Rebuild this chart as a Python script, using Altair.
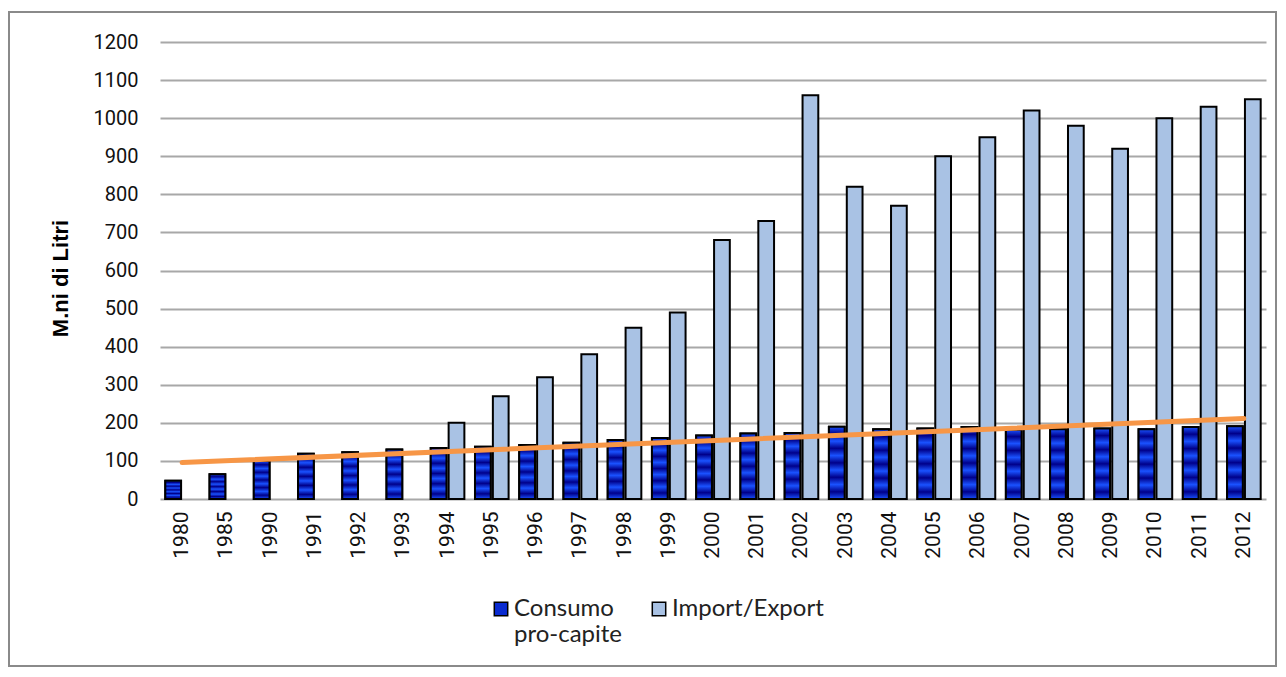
import altair as alt
import pandas as pd

years = ["1980", "1985", "1990", "1991", "1992", "1993", "1994", "1995", "1996",
         "1997", "1998", "1999", "2000", "2001", "2002", "2003", "2004", "2005",
         "2006", "2007", "2008", "2009", "2010", "2011", "2012"]
consumo = [48, 65, 100, 119, 123, 130, 134, 137, 142, 148, 155, 160, 167, 172,
           173, 190, 183, 185, 189, 182, 183, 185, 183, 189, 191]
import_export = [None, None, None, None, None, None, 200, 270, 320, 380, 450,
                 490, 680, 730, 1060, 820, 770, 900, 950, 1020, 980, 920, 1000,
                 1030, 1050]
series_names = ["Consumo pro-capite", "Import/Export"]
y_ticks = list(range(0, 1300, 100))

rows = []
for i, yr in enumerate(years):
    rows.append({"year": yr, "idx": i, "series": series_names[0], "value": consumo[i]})
    if import_export[i] is not None:
        rows.append({"year": yr, "idx": i, "series": series_names[1], "value": import_export[i]})
df = pd.DataFrame(rows)

FONT = "Liberation Sans Narrow, Roboto, sans-serif"
TFONT = "Liberation Sans, Arial, sans-serif"
W, H = 1106, 457

x_enc = alt.X("year:N", sort=years,
              scale=alt.Scale(paddingInner=0.24, paddingOuter=0.12),
              axis=alt.Axis(title=None, labelAngle=-90, labelFont=FONT, labelFontSize=21,
                            labelColor="#111", labelPadding=12, ticks=False,
                            domain=False, grid=False))
xoff_enc = alt.XOffset("series:N", sort=series_names,
                       scale=alt.Scale(domain=series_names, paddingInner=0.12, paddingOuter=0))
y_axis = alt.Axis(values=y_ticks, format="d", title="M.ni di Litri", labelFont=FONT,
                  labelFontSize=20, labelColor="#111", labelPadding=22, ticks=False,
                  domain=False, gridColor="#a8a8a8", gridWidth=2,
                  titleFont=TFONT, titleFontSize=22, titleFontWeight="bold",
                  titleColor="#000", titleX=-93, titleY=236, titleAngle=-90,
                  titleBaseline="alphabetic", titleAlign="center")
y_enc = alt.Y("value:Q", scale=alt.Scale(domain=[0, 1200], nice=False), axis=y_axis)

bars = alt.Chart(df).mark_bar(stroke="#000", strokeWidth=2).encode(
    x=x_enc, xOffset=xoff_enc, y=y_enc,
    color=alt.Color("series:N",
                    scale=alt.Scale(domain=series_names, range=["#0a2bd1", "#a9c2e4"]),
                    legend=alt.Legend(title=None, orient="none", legendX=329, legendY=555,
                                      direction="horizontal", columns=2, padding=0,
                                      symbolType="square", symbolSize=180,
                                      symbolStrokeColor="#000", symbolStrokeWidth=1.5,
                                      labelFont="Lato", labelFontSize=24, labelColor="#222",
                                      labelOffset=1, labelBaseline="middle",
                                      columnPadding=24, labelLimit=300,
                                      labelExpr="datum.label == 'Consumo pro-capite' ? ['Consumo', 'pro-capite'] : [datum.label, '']"))
)

stops = []
n = 5
for k in range(n):
    base = k / n
    stops.append(alt.GradientStop(color="#1a52ff", offset=base))
    stops.append(alt.GradientStop(color="#00008a", offset=base + 0.5 / n))
stops.append(alt.GradientStop(color="#1a52ff", offset=1))
grad = alt.LinearGradient(gradient="linear", stops=stops, x1=0, x2=0, y1=0, y2=1)

overlay = alt.Chart(df).transform_filter(
    alt.datum.series == series_names[0]
).mark_bar(color=grad, stroke="#000", strokeWidth=2).encode(
    x=x_enc, xOffset=xoff_enc, y=y_enc
)

trend = alt.Chart(df).transform_filter(
    alt.datum.series == series_names[0]
).transform_regression("idx", "value", method="linear").mark_line(
    color="#f79646", strokeWidth=5, strokeCap="round"
).encode(
    x=alt.X("idx:Q", scale=alt.Scale(domain=[-0.5, len(years) - 0.5], nice=False, zero=False),
            axis=None),
    y=y_enc
)

frame = alt.Chart(pd.DataFrame({"a": [0]})).mark_rect(
    fillOpacity=0, stroke="#8a8a8a", strokeWidth=2
).encode(
    x=alt.value(-151), x2=alt.value(1116), y=alt.value(-30), y2=alt.value(624)
)

chart = alt.layer(
    frame,
    alt.layer(bars, overlay),
    trend
).resolve_scale(x="independent").properties(
    width=W, height=H,
    autosize=alt.AutoSizeParams(type="none"),
    padding={"left": 152, "top": 34, "right": 12, "bottom": 170},
    background="white"
).configure_view(stroke=None)

chart.save("out.html", embed_options={"renderer": "svg", "actions": False})
